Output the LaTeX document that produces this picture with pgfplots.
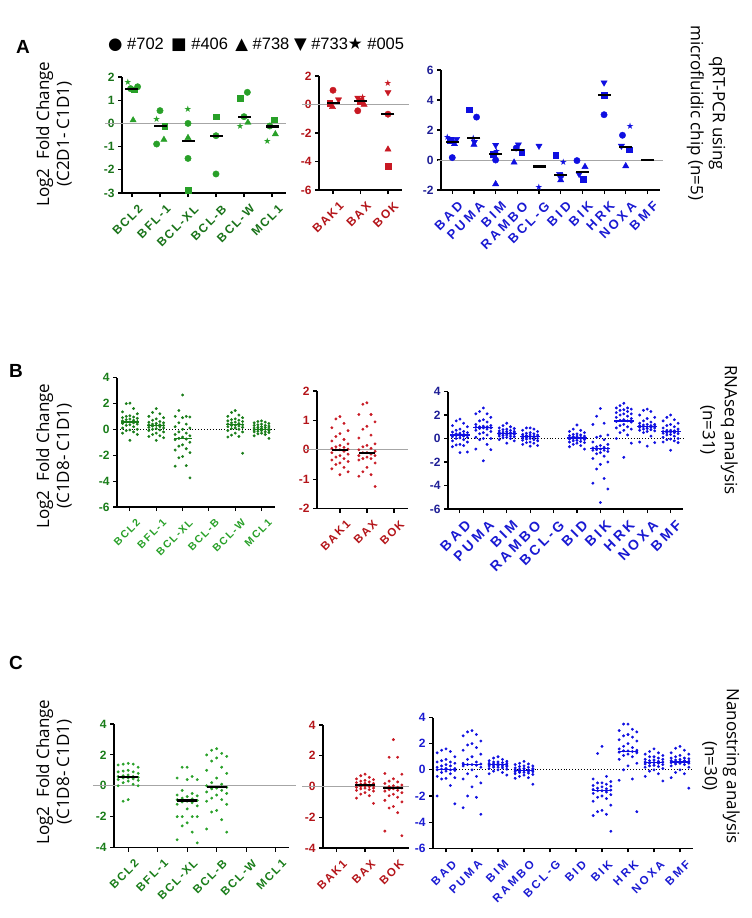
\documentclass[border=0pt]{standalone}
\usepackage{fontspec}
\setmainfont{Liberation Sans}
\newfontfamily\calfont{Open Sans}
\newfontfamily\symfont{DejaVu Sans}
\newfontfamily\spcA[LetterSpace=15]{Liberation Sans}
\newfontfamily\spcB[LetterSpace=22]{Liberation Sans}
\usepackage{pgfplots}
\pgfplotsset{compat=1.18}
\usetikzlibrary{plotmarks}

\definecolor{gtx}{RGB}{25,115,25}
\definecolor{gpt}{RGB}{40,160,40}
\definecolor{gdk}{RGB}{25,125,25}
\definecolor{rtx}{RGB}{180,20,25}
\definecolor{rpt}{RGB}{200,25,35}
\definecolor{btx}{RGB}{25,25,210}
\definecolor{bnum}{RGB}{30,30,150}
\definecolor{bpt}{RGB}{15,15,225}

\pgfplotsset{
  panel/.style 2 args={scale only axis, anchor=south west, clip=false,
    axis lines=left, axis line style={-, line width=1.3pt, black},
    tick align=outside, major tick length=4pt,
    tick style={line width=1.1pt, black},
    /pgf/number format/assume math mode=true,
    yticklabel style={font=\bfseries\fontsize{12}{12}\selectfont, text=#1},
    xticklabel style={font=\spcA\bfseries\fontsize{12}{12}\selectfont, text=#2,
      rotate=45, anchor=east, inner sep=1pt, yshift=-13pt, xshift=0pt},
  },
  cm/.style={only marks, mark=*, mark size=3.2pt, color=#1},
  sm/.style={only marks, mark=square*, mark size=2.9pt, color=#1},
  tm/.style={only marks, mark=triangle*, mark size=3.6pt, color=#1},
  dm/.style={only marks, mark=triangle*, mark size=3.6pt, mark options={rotate=180}, color=#1},
  stm/.style={only marks, mark=text, text mark={\color{#1}\fontsize{9}{9}\selectfont\symfont ★}, color=#1},
  med/.style n args={3}{only marks, mark=-, mark size=#1, mark options={line width=#2}, color=#3},
  dot/.style={only marks, mark=*, mark size=1.25pt, color=#1},
  zl/.style={gray!70, line width=0.8pt},
  zd/.style={black, line width=0.9pt, dotted},
}

% beeswarm: values sorted from high to low, spread in rows of five
\newcommand{\swarm}[4]{\addplot[#1] table[row sep=\\, y=y,
  x expr={#2+#3*(1-2*mod(mod(\coordindex,5),2))*ceil(mod(\coordindex,5)/2)}] {y\\#4};}

\begin{document}
\begin{tikzpicture}
\path[use as bounding box] (0,0) rectangle (752pt,-918pt);

% ---------- texts ----------
\node[font=\bfseries\fontsize{19}{19}\selectfont] at (23pt,-47pt) {A};
\node[font=\bfseries\fontsize{19}{19}\selectfont] at (16pt,-371pt) {B};
\node[font=\bfseries\fontsize{19}{19}\selectfont] at (16pt,-663pt) {C};

\node[anchor=west, font=\fontsize{16.5}{16.5}\selectfont, inner sep=0pt] at (108pt,-45pt)
  {{\symfont ●} \#702\, {\symfont ■} \#406\, {\symfont ▲} \#738 {\symfont ▼} \#733{\symfont ★} \#005};

\node[rotate=90, align=center, font=\calfont\fontsize{17}{20}\selectfont] at (54pt,-134pt) {Log2\ \ Fold Change\\(C2D1- C1D1)};
\node[rotate=90, align=center, font=\calfont\fontsize{17}{20}\selectfont] at (54pt,-456pt) {Log2\ \ Fold Change\\(C1D8- C1D1)};
\node[rotate=90, align=center, font=\calfont\fontsize{17}{20}\selectfont] at (54pt,-772pt) {Log2\ \ Fold Change\\(C1D8- C1D1)};

\node[rotate=-90, align=center, font=\calfont\fontsize{17}{22}\selectfont] at (706pt,-113pt) {qRT-PCR using\\microfluidic chip (n=5)};
\node[rotate=-90, align=center, font=\calfont\fontsize{17}{22}\selectfont] at (719pt,-430pt) {RNAseq analysis\\(n=31)};
\node[rotate=-90, align=center, font=\calfont\fontsize{17}{22}\selectfont] at (721pt,-766pt) {Nanostring analysis\\(n=30)};

% ================= A1 =================
\begin{axis}[panel={gtx}{gtx}, at={(122pt,-193pt)}, width=164pt, height=116pt,
  xmin=-0.357, xmax=5.5, ymin=-3, ymax=2, ytick={-3,...,2},
  xtick={0,...,5}, xticklabels={BCL2,BFL-1,BCL-XL,BCL-B,BCL-W,MCL1}]
\addplot[zl] coordinates {(-0.96,0) (5.5,0)};
\addplot[cm=gpt] coordinates {(0.2,1.58) (-0.05,1.5) (1,0.55) (0.88,-0.89) (2,0) (2,-1.51) (3,-0.53) (3,-2.18) (4.12,1.34) (4,0.29) (4.92,-0.11)};
\addplot[sm=gpt] coordinates {(0.08,1.45) (1.17,-0.11) (2,-2.87) (3,0.29) (3.86,1.08) (5.08,0.16)};
\addplot[tm=gpt] coordinates {(0.04,0.14) (1.14,-0.70) (2,-0.62) (4.14,0.04) (5.12,-0.46)};
\addplot[stm=gpt] coordinates {(-0.15,1.77) (0.88,0.17) (2,0.62) (3.86,-0.13) (4.84,-0.79)};
\addplot[med={6.5pt}{2.2pt}{black}] coordinates {(0,1.5) (1,-0.11) (2,-0.75) (3,-0.53) (4,0.29) (5,-0.13)};
\end{axis}

% ================= A2 =================
\begin{axis}[panel={rtx}{rtx}, at={(319pt,-190pt)}, width=83pt, height=114pt,
  xmin=-0.51, xmax=2.51, ymin=-6, ymax=2, ytick={-6,-4,...,2},
  xtick={0,1,2}, xticklabels={BAK1,BAX,BOK}]
\addplot[zl] coordinates {(-1.13,0) (2.76,0)};
\addplot[cm=rpt] coordinates {(0,1.0) (0.9,-0.44) (2,-0.68)};
\addplot[sm=rpt] coordinates {(-0.12,0.12) (1.0,0.26) (2,-4.31)};
\addplot[tm=rpt] coordinates {(-0.02,-0.16) (1.13,0.0) (2,-3.15)};
\addplot[dm=rpt] coordinates {(0.2,0.35) (0.9,0.47) (2,0.86)};
\addplot[stm=rpt] coordinates {(1.08,0.54) (2,1.52)};
\addplot[med={6.5pt}{2.2pt}{black}] coordinates {(0,0.1) (1,0.27) (2,-0.68)};
\end{axis}

% ================= A3 =================
\begin{axis}[panel={bnum}{btx}, at={(441pt,-190pt)}, width=219pt, height=120pt,
  xmin=-0.52, xmax=9.58, ymin=-2, ymax=6, ytick={-2,0,...,6},
  xtick={0,...,9}, xticklabels={BAD,PUMA,BIM,RAMBO,BCL-G,BID,BIK,HRK,NOXA,BMF},
  xticklabel style={font=\spcB\bfseries\fontsize{13}{13}\selectfont}]
\addplot[zl] coordinates {(-0.66,0) (9.72,0)};
\addplot[cm=bpt] coordinates {(0,0.16) (1.12,2.86) (2,0) (2.95,0.8) (5,-1.05) (5.75,-0.04) (7,3.02) (7.85,1.65)};
\addplot[sm=bpt] coordinates {(-0.1,1.3) (0.77,3.35) (1.9,0.4) (3.2,0.51) (4.77,0.31) (6.05,-1.3) (7,4.31) (8.15,0.69)};
\addplot[tm=bpt] coordinates {(0.1,1.07) (1,1.03) (2,-1.6) (2.85,-0.16) (5,-1.34) (6.12,-0.45) (8,-0.4)};
\addplot[dm=bpt] coordinates {(0.2,1.39) (1.02,1.2) (2,1.0) (3.05,1.03) (4,0.94) (4.95,-0.94) (5.85,-0.94) (7,5.16) (7.8,0.94)};
\addplot[stm=bpt] coordinates {(-0.23,1.52) (0.97,1.45) (2.05,0.55) (4,-1.79) (5.12,-0.13) (8.2,2.26)};
\addplot[med={6.5pt}{2.2pt}{black}] coordinates {(0,1.22) (1,1.47) (2,0.38) (3,0.66) (4,-0.43) (5,-0.98) (6,-0.82) (7,4.33) (8,0.88) (9,0)};
\end{axis}

% ================= B1 =================
\begin{axis}[panel={gdk}{gpt}, at={(117pt,-507pt)}, width=158pt, height=129.5pt,
  xmin=-0.49, xmax=5.51, ymin=-6, ymax=4, ytick={-6,-4,...,4},
  xtick={0,...,5}, xticklabels={BCL2,BFL-1,BCL-XL,BCL-B,BCL-W,MCL1},
  xticklabel style={font=\spcA\bfseries\fontsize{10.5}{11}\selectfont}]
\addplot[zd] coordinates {(-0.49,0) (5.51,0)};
\swarm{dot=gdk}{0}{0.14}{2.02\\1.98\\1.6\\1.35\\1.2\\1.05\\1.0\\0.95\\0.9\\0.85\\0.8\\0.75\\0.7\\0.65\\0.6\\0.57\\0.55\\0.5\\0.45\\0.4\\0.35\\0.3\\0.2\\0.1\\0.0\\-0.05\\-0.1\\-0.2\\-0.3\\-0.4\\-0.85\\}
\swarm{dot=gdk}{1}{0.14}{1.6\\1.3\\1.2\\1.0\\0.9\\0.8\\0.7\\0.6\\0.55\\0.5\\0.45\\0.4\\0.35\\0.35\\0.3\\0.3\\0.25\\0.2\\0.15\\0.1\\0.05\\0.0\\-0.05\\-0.1\\-0.2\\-0.3\\-0.4\\-0.5\\-0.55\\-0.65\\-0.85\\}
\swarm{dot=gdk}{2}{0.14}{2.65\\1.45\\1.0\\1.0\\0.95\\0.9\\0.5\\0.4\\0.2\\0.1\\0.0\\-0.2\\-0.3\\-0.4\\-0.5\\-0.6\\-0.7\\-0.75\\-0.8\\-1.0\\-1.2\\-1.3\\-1.5\\-1.6\\-1.8\\-2.1\\-2.2\\-2.8\\-2.85\\-3.75\\}
\swarm{dot=gdk}{4}{0.14}{1.45\\1.3\\1.1\\1.0\\0.9\\0.8\\0.75\\0.7\\0.65\\0.6\\0.55\\0.5\\0.45\\0.4\\0.35\\0.3\\0.3\\0.25\\0.2\\0.15\\0.1\\0.05\\0.0\\-0.1\\-0.2\\-0.3\\-0.45\\-0.55\\-0.6\\-1.85\\}
\swarm{dot=gdk}{5}{0.14}{0.65\\0.6\\0.55\\0.5\\0.45\\0.4\\0.35\\0.3\\0.3\\0.25\\0.2\\0.15\\0.15\\0.1\\0.1\\0.05\\0.0\\0.0\\-0.05\\-0.1\\-0.1\\-0.15\\-0.2\\-0.2\\-0.25\\-0.3\\-0.35\\-0.4\\-0.5\\-0.7\\}
\addplot[med={9pt}{1.3pt}{gdk}] coordinates {(0,0.57) (1,0.3) (2,-0.72) (4,0.35) (5,0.0)};
\end{axis}

% ================= B2 =================
\begin{axis}[panel={rtx}{rtx}, at={(317pt,-508.5pt)}, width=91pt, height=117.5pt,
  xmin=-0.85, xmax=2.52, ymin=-2, ymax=2, ytick={-2,...,2},
  xtick={0,1,2}, xticklabels={BAK1,BAX,BOK},
  xticklabel style={font=\spcA\bfseries\fontsize{11.5}{12}\selectfont}]
\addplot[zl] coordinates {(-1.33,0) (2.52,0)};
\swarm{dot=rpt}{0}{0.15}{1.13\\1.05\\0.9\\0.75\\0.65\\0.55\\0.45\\0.35\\0.3\\0.2\\0.15\\0.1\\0.08\\0.05\\0.02\\0.0\\0.0\\-0.05\\-0.1\\-0.15\\-0.2\\-0.25\\-0.3\\-0.35\\-0.4\\-0.45\\-0.5\\-0.6\\-0.65\\-0.75\\-0.85\\}
\swarm{dot=rpt}{1}{0.15}{1.6\\1.55\\1.2\\1.2\\0.95\\0.8\\0.7\\0.5\\0.4\\0.2\\0.15\\0.1\\0.05\\0.0\\-0.05\\-0.1\\-0.1\\-0.15\\-0.2\\-0.2\\-0.25\\-0.3\\-0.3\\-0.35\\-0.45\\-0.6\\-0.75\\-0.85\\-0.9\\-1.25\\}
\addplot[med={8pt}{2.2pt}{black}] coordinates {(0,0.0) (1,-0.12)};
\end{axis}

% ================= B3 =================
\begin{axis}[panel={bnum}{btx}, at={(448pt,-509pt)}, width=235pt, height=117.5pt,
  xmin=-0.51, xmax=9.53, ymin=-6, ymax=4, ytick={-6,-4,...,4},
  xtick={0,...,9}, xticklabels={BAD,PUMA,BIM,RAMBO,BCL-G,BID,BIK,HRK,NOXA,BMF},
  xticklabel style={font=\spcB\bfseries\fontsize{14}{14}\selectfont}]
\addplot[zd] coordinates {(-0.51,0) (9.53,0)};
\swarm{dot=bpt}{0}{0.16}{1.65\\1.5\\1.3\\1.1\\1.0\\0.8\\0.7\\0.6\\0.55\\0.5\\0.45\\0.4\\0.35\\0.3\\0.3\\0.25\\0.25\\0.2\\0.15\\0.1\\0.05\\0.0\\-0.1\\-0.2\\-0.3\\-0.5\\-0.55\\-0.6\\-0.7\\-1.15\\-1.2\\}
\swarm{dot=bpt}{1}{0.16}{2.6\\2.3\\2.1\\2.1\\1.8\\1.6\\1.5\\1.4\\1.2\\1.1\\1.05\\1.0\\1.0\\0.95\\0.9\\0.9\\0.85\\0.8\\0.7\\0.6\\0.5\\0.4\\0.3\\0.1\\0.0\\0.0\\-0.1\\-0.5\\-0.9\\-0.95\\-1.9\\}
\swarm{dot=bpt}{2}{0.16}{1.3\\1.1\\1.0\\0.9\\0.85\\0.8\\0.75\\0.7\\0.65\\0.6\\0.6\\0.55\\0.5\\0.5\\0.5\\0.45\\0.4\\0.4\\0.35\\0.35\\0.3\\0.25\\0.2\\0.2\\0.15\\0.1\\0.05\\0.0\\-0.1\\-0.2\\-0.4\\}
\swarm{dot=bpt}{3}{0.16}{0.9\\0.9\\0.8\\0.7\\0.6\\0.5\\0.45\\0.4\\0.35\\0.3\\0.3\\0.25\\0.2\\0.2\\0.2\\0.15\\0.1\\0.1\\0.05\\0.0\\0.0\\-0.05\\-0.1\\-0.15\\-0.2\\-0.3\\-0.35\\-0.4\\-0.5\\-0.6\\-0.65\\}
\swarm{dot=bpt}{5}{0.16}{1.15\\0.8\\0.7\\0.6\\0.5\\0.4\\0.35\\0.3\\0.25\\0.2\\0.2\\0.15\\0.1\\0.1\\0.05\\0.05\\0.0\\0.0\\-0.05\\-0.1\\-0.15\\-0.2\\-0.25\\-0.3\\-0.35\\-0.4\\-0.5\\-0.6\\-0.7\\-0.9\\}
\swarm{dot=bpt}{6}{0.16}{2.55\\1.9\\1.3\\1.2\\0.3\\0.2\\0.1\\-0.1\\-0.3\\-0.5\\-0.6\\-0.7\\-0.75\\-0.8\\-0.85\\-0.9\\-0.95\\-1.0\\-1.0\\-1.1\\-1.2\\-1.3\\-1.5\\-1.7\\-2.0\\-2.2\\-2.6\\-3.4\\-3.8\\-4.3\\-5.45\\}
\swarm{dot=bpt}{7}{0.16}{3.0\\2.8\\2.6\\2.6\\2.5\\2.45\\2.4\\2.3\\2.2\\2.1\\2.1\\2.0\\1.9\\1.8\\1.7\\1.6\\1.55\\1.5\\1.45\\1.4\\1.2\\1.1\\1.0\\0.9\\0.8\\0.7\\0.5\\0.3\\0.0\\-0.4\\-1.6\\}
\swarm{dot=bpt}{8}{0.16}{2.5\\2.4\\2.3\\2.0\\1.8\\1.7\\1.5\\1.4\\1.3\\1.2\\1.2\\1.15\\1.1\\1.1\\1.05\\1.0\\1.0\\0.95\\0.95\\0.9\\0.85\\0.8\\0.75\\0.7\\0.65\\0.6\\0.5\\0.2\\-0.3\\-0.35\\-0.65\\}
\swarm{dot=bpt}{9}{0.16}{2.0\\1.8\\1.6\\1.5\\1.3\\1.2\\1.1\\1.0\\0.9\\0.8\\0.7\\0.7\\0.65\\0.6\\0.6\\0.55\\0.5\\0.5\\0.45\\0.4\\0.35\\0.3\\0.2\\0.1\\0.0\\-0.05\\-0.1\\-0.2\\-0.3\\-0.35\\-1.0\\}
\addplot[med={10pt}{1.3pt}{bpt}] coordinates {(0,0.3) (1,0.95) (2,0.45) (3,0.2) (5,0.05) (6,-0.85) (7,1.5) (8,1.0) (9,0.6)};
\end{axis}

% ================= C1 =================
\begin{axis}[panel={gdk}{gdk}, at={(114pt,-847.5pt)}, width=175pt, height=123.5pt,
  xmin=-0.48, xmax=5.45, ymin=-4, ymax=4, ytick={-4,-2,...,4},
  xtick={0,...,5}, xticklabels={BCL2,BFL-1,BCL-XL,BCL-B,BCL-W,MCL1},
  xticklabel style={font=\spcA\bfseries\fontsize{11.5}{12}\selectfont}]
\addplot[zl] coordinates {(-1.2,0) (5.68,0)};
\swarm{dot=gpt}{0}{0.17}{1.45\\1.4\\1.4\\1.35\\1.2\\1.0\\0.95\\0.9\\0.9\\0.8\\0.7\\0.65\\0.6\\0.6\\0.55\\0.5\\0.5\\0.45\\0.4\\0.35\\0.3\\0.2\\0.1\\0.0\\0.0\\-0.9\\-1.0\\}
\swarm{dot=gpt}{2}{0.17}{1.2\\1.2\\0.6\\0.5\\0.4\\0.4\\-0.3\\-0.5\\-0.6\\-0.65\\-0.7\\-0.8\\-0.85\\-0.9\\-0.95\\-1.0\\-1.05\\-1.1\\-1.2\\-1.3\\-1.5\\-2.0\\-2.0\\-2.0\\-2.0\\-2.4\\-2.6\\-3.0\\-3.5\\-3.7\\}
\swarm{dot=gpt}{3}{0.17}{2.4\\2.3\\2.1\\2.0\\1.9\\1.8\\1.6\\1.2\\1.0\\0.8\\0.5\\0.2\\0.1\\0.0\\-0.1\\-0.15\\-0.2\\-0.3\\-0.4\\-0.5\\-0.6\\-0.8\\-0.9\\-1.0\\-1.2\\-1.6\\-1.7\\-2.2\\-2.8\\-3.0\\}
\addplot[med={10pt}{2.2pt}{black}] coordinates {(0,0.55) (2,-0.95) (3,-0.1)};
\end{axis}

% ================= C2 =================
\begin{axis}[panel={rtx}{rtx}, at={(323pt,-848pt)}, width=86pt, height=123pt,
  xmin=-0.48, xmax=2.55, ymin=-4, ymax=4, ytick={-4,-2,...,4},
  xtick={0,1,2}, xticklabels={BAK1,BAX,BOK},
  xticklabel style={font=\spcA\bfseries\fontsize{11.5}{12}\selectfont}]
\addplot[zl] coordinates {(-1.22,0) (2.55,0)};
\swarm{dot=rpt}{1}{0.15}{0.8\\0.7\\0.6\\0.5\\0.45\\0.4\\0.35\\0.3\\0.25\\0.2\\0.2\\0.15\\0.1\\0.1\\0.05\\0.05\\0.0\\0.0\\-0.05\\-0.1\\-0.1\\-0.15\\-0.2\\-0.25\\-0.3\\-0.4\\-0.5\\-0.6\\-0.75\\-1.1\\}
\swarm{dot=rpt}{2}{0.15}{3.05\\1.9\\1.9\\0.85\\0.8\\0.5\\0.35\\0.3\\0.2\\0.1\\0.05\\0.0\\-0.05\\-0.1\\-0.1\\-0.15\\-0.2\\-0.25\\-0.3\\-0.4\\-0.5\\-0.6\\-0.7\\-0.9\\-1.0\\-1.3\\-1.4\\-1.7\\-2.9\\-3.2\\}
\addplot[med={10pt}{2.2pt}{black}] coordinates {(1,0.08) (2,-0.1)};
\end{axis}

% ================= C3 =================
\begin{axis}[panel={btx}{btx}, at={(433pt,-848.3pt)}, width=260pt, height=130.8pt,
  xmin=-0.5, xmax=9.5, ymin=-6, ymax=4, ytick={-6,-4,...,4},
  xtick={0,...,9}, xticklabels={BAD,PUMA,BIM,RAMBO,BCL-G,BID,BIK,HRK,NOXA,BMF},
  xticklabel style={font=\spcB\bfseries\fontsize{11.5}{12}\selectfont}]
\addplot[zd] coordinates {(-0.5,0) (9.5,0)};
\swarm{dot=bpt}{0}{0.17}{1.6\\1.5\\1.4\\1.3\\1.0\\0.8\\0.7\\0.6\\0.6\\0.5\\0.4\\0.3\\0.3\\0.2\\0.1\\0.1\\0.05\\0.0\\0.0\\-0.05\\-0.1\\-0.2\\-0.3\\-0.5\\-0.6\\-0.65\\-0.7\\-1.2\\-2.0\\-2.6\\}
\swarm{dot=bpt}{1}{0.17}{3.0\\2.9\\2.7\\2.6\\2.2\\2.0\\1.9\\1.7\\1.5\\1.2\\1.0\\0.8\\0.6\\0.5\\0.45\\0.4\\0.4\\0.35\\0.3\\0.2\\0.0\\-0.3\\-0.5\\-0.7\\-1.0\\-1.3\\-2.0\\-2.1\\-2.9\\-3.4\\}
\swarm{dot=bpt}{2}{0.17}{1.0\\0.9\\0.8\\0.7\\0.65\\0.6\\0.6\\0.55\\0.5\\0.5\\0.45\\0.45\\0.4\\0.4\\0.35\\0.35\\0.3\\0.3\\0.3\\0.25\\0.2\\0.2\\0.15\\0.1\\0.05\\0.0\\-0.1\\-0.2\\-0.3\\-0.4\\}
\swarm{dot=bpt}{3}{0.17}{0.65\\0.5\\0.45\\0.4\\0.3\\0.3\\0.25\\0.2\\0.15\\0.1\\0.1\\0.05\\0.0\\0.0\\0.0\\-0.05\\-0.1\\-0.1\\-0.15\\-0.15\\-0.2\\-0.2\\-0.25\\-0.3\\-0.35\\-0.4\\-0.5\\-0.6\\-0.65\\-1.1\\}
\swarm{dot=bpt}{6}{0.17}{1.8\\1.25\\-0.5\\-0.7\\-0.9\\-1.0\\-1.0\\-1.1\\-1.2\\-1.25\\-1.3\\-1.4\\-1.45\\-1.5\\-1.55\\-1.6\\-1.6\\-1.7\\-1.8\\-1.9\\-2.0\\-2.1\\-2.2\\-2.4\\-2.7\\-3.1\\-3.2\\-3.4\\-3.5\\-4.7\\}
\swarm{dot=bpt}{7}{0.17}{3.5\\3.5\\3.1\\3.0\\2.9\\2.7\\2.6\\2.5\\2.3\\2.2\\2.0\\1.8\\1.7\\1.6\\1.5\\1.45\\1.45\\1.4\\1.35\\1.3\\1.2\\1.1\\1.0\\0.8\\0.5\\0.3\\0.0\\-0.7\\-0.8\\-3.2\\}
\swarm{dot=bpt}{8}{0.17}{1.6\\1.4\\1.3\\1.2\\1.1\\1.0\\1.0\\0.9\\0.8\\0.8\\0.75\\0.7\\0.65\\0.6\\0.6\\0.55\\0.5\\0.5\\0.45\\0.4\\0.35\\0.3\\0.25\\0.2\\0.1\\0.0\\-0.1\\-0.3\\-0.5\\-0.85\\}
\swarm{dot=bpt}{9}{0.17}{1.8\\1.65\\1.5\\1.3\\1.2\\1.1\\1.0\\0.9\\0.9\\0.85\\0.8\\0.75\\0.7\\0.7\\0.65\\0.65\\0.6\\0.6\\0.55\\0.5\\0.5\\0.45\\0.4\\0.3\\0.2\\0.0\\-0.2\\-0.3\\-0.6\\-1.4\\}
\addplot[med={10pt}{1.3pt}{bpt}] coordinates {(0,0.05) (1,0.4) (2,0.4) (3,-0.05) (6,-1.6) (7,1.4) (8,0.55) (9,0.6)};
\end{axis}
\end{tikzpicture}
\end{document}
